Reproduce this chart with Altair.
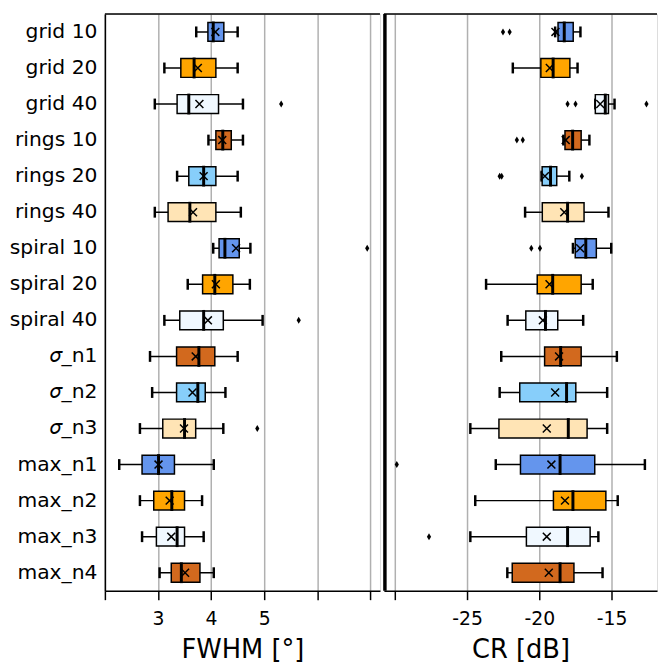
import altair as alt
import pandas as pd

names = ["grid 10", "grid 20", "grid 40", "rings 10", "rings 20", "rings 40",
         "spiral 10", "spiral 20", "spiral 40", "𝜎_n1", "𝜎_n2", "𝜎_n3",
         "max_n1", "max_n2", "max_n3", "max_n4"]
colors = ["#6495ED", "#FFA500", "#F0F8FF", "#D2691E", "#87CEFA", "#FFE4B5",
          "#6495ED", "#FFA500", "#F0F8FF", "#D2691E", "#87CEFA", "#FFE4B5",
          "#6495ED", "#FFA500", "#F0F8FF", "#D2691E"]

# FWHM [deg]
fw_lo = [3.72, 3.12, 2.94, 3.95, 3.36, 2.94, 4.04, 3.56, 3.12, 2.85, 2.89, 2.66, 2.27, 2.66, 2.70, 3.03]
fw_q1 = [3.94, 3.43, 3.36, 4.09, 3.58, 3.19, 4.15, 3.84, 3.41, 3.35, 3.35, 3.09, 2.70, 2.92, 2.97, 3.25]
fw_md = [4.04, 3.68, 3.58, 4.22, 3.86, 3.60, 4.26, 4.07, 3.86, 3.77, 3.75, 3.50, 3.01, 3.26, 3.36, 3.44]
fw_q3 = [4.24, 4.09, 4.14, 4.38, 4.09, 4.09, 4.53, 4.41, 4.23, 4.07, 3.89, 3.71, 3.31, 3.50, 3.50, 3.79]
fw_hi = [4.50, 4.50, 4.60, 4.60, 4.50, 4.56, 4.74, 4.73, 4.97, 4.50, 4.27, 4.23, 4.05, 3.83, 3.86, 4.05]
fw_mean = [4.08, 3.75, 3.78, 4.21, 3.86, 3.66, 4.47, 4.09, 3.94, 3.71, 3.65, 3.49, 3.01, 3.22, 3.25, 3.51]
fw_out_name = ["grid 40", "spiral 10", "spiral 40", "𝜎_n3"]
fw_out_val = [5.32, 6.94, 5.65, 4.87]

# CR [dB]
cr_lo = [-18.9, -21.83, -16.12, -18.33, -19.84, -20.98, -17.67, -23.68, -22.19, -22.63, -22.74, -24.77, -23.01, -24.43, -24.77, -22.21]
cr_q1 = [-18.70, -19.89, -16.12, -18.22, -19.80, -19.79, -17.51, -20.14, -20.93, -19.63, -21.35, -22.79, -21.30, -19.02, -20.89, -21.87]
cr_md = [-18.27, -19.04, -15.43, -17.69, -19.22, -18.04, -16.78, -19.07, -19.57, -18.52, -18.11, -17.99, -18.56, -17.67, -18.04, -18.56]
cr_q3 = [-17.65, -17.88, -15.21, -17.10, -18.79, -16.90, -16.05, -17.10, -18.72, -17.10, -17.47, -16.69, -16.16, -15.39, -16.48, -17.60]
cr_hi = [-17.15, -17.35, -14.79, -16.53, -17.92, -15.21, -15.02, -16.30, -16.96, -14.63, -15.30, -15.30, -12.69, -14.57, -15.91, -15.62]
cr_mean = [-18.88, -19.27, -15.78, -18.17, -19.61, -18.27, -17.17, -19.29, -19.75, -18.63, -18.90, -19.48, -19.16, -18.22, -19.48, -19.34]
cr_out_name = ["grid 10", "grid 10", "grid 40", "grid 40", "grid 40", "rings 10", "rings 10",
               "rings 20", "rings 20", "rings 20", "spiral 10", "spiral 10", "max_n1", "max_n3"]
cr_out_val = [-22.51, -22.05, -18.04, -17.49, -12.58, -21.55, -21.14,
              -22.74, -22.60, -17.05, -20.55, -19.95, -29.86, -27.63]

H = 583
FONT = "DejaVu Sans"
X_SHAPE = "M-1,-1L1,1M-1,1L1,-1"
D_SHAPE = "M0,-1L0.6,0L0,1L-0.6,0Z"


def panel(lo, q1, md, q3, hi, mean, out_name, out_val, domain, values, label_expr,
          title, width, show_y, left_frame):
    df = pd.DataFrame({"name": names, "color": colors, "lo": lo, "q1": q1, "md": md,
                       "q3": q3, "hi": hi, "mean": mean})
    dout = pd.DataFrame({"name": out_name, "v": out_val})
    yscale = alt.Scale(type="band", domain=names, paddingInner=0, paddingOuter=0, round=False)
    if show_y:
        yax = alt.Axis(title=None, ticks=False, labelFontSize=20.5, labelPadding=8,
                       labelFont=FONT, labelColor="black", domainColor="black",
                       domainWidth=1.5, minExtent=100, maxExtent=100, labelLimit=200)
    else:
        yax = None
    xscale = alt.Scale(domain=domain, nice=False, zero=False)
    xax = alt.Axis(values=values, labelExpr=label_expr, title=title, grid=True,
                   gridColor="#b0b0b0", gridWidth=1.5, domainColor="black",
                   domainWidth=1.5, tickColor="black", tickWidth=1.5, tickSize=9,
                   labelFontSize=19, labelFont=FONT, labelColor="black",
                   labelPadding=10, titleFontSize=26, titleFont=FONT,
                   titleFontWeight="normal", titleColor="black", titlePadding=8,
                   labelFlush=False)
    base = alt.Chart(df)
    y = alt.Y("name:N", scale=yscale, axis=yax, sort=names)
    whisk = base.mark_rule(color="black", strokeWidth=1.5).encode(
        x=alt.X("lo:Q", scale=xscale, axis=xax), x2="hi:Q", y=y)
    cap_lo = base.mark_tick(color="black", size=11, thickness=2.5, orient="vertical",
                            opacity=1).encode(x="lo:Q", y=y)
    cap_hi = base.mark_tick(color="black", size=11, thickness=2.5, orient="vertical",
                            opacity=1).encode(x="hi:Q", y=y)
    box = base.mark_bar(stroke="black", strokeWidth=1.5, size=19, opacity=1).encode(
        x="q1:Q", x2="q3:Q", y=y, color=alt.Color("color:N", scale=None))
    med = base.mark_tick(color="black", size=21, thickness=3, orient="vertical",
                         opacity=1).encode(x="md:Q", y=y)
    mn = base.mark_point(shape=X_SHAPE, size=64, filled=False, stroke="black",
                         strokeWidth=1.5, opacity=1).encode(x="mean:Q", y=y)
    outl = alt.Chart(dout).mark_point(shape=D_SHAPE, size=50, filled=True, color="black",
                                      opacity=1).encode(x="v:Q", y=alt.Y("name:N", scale=yscale, sort=names))
    fdf = pd.DataFrame({"a": [0]})
    top = alt.Chart(fdf).mark_rule(color="black", strokeWidth=1.5).encode(
        x=alt.value(0), x2=alt.value(width), y=alt.value(0))
    layers = [whisk, cap_lo, cap_hi, box, med, mn, outl, top]
    if left_frame:
        sep = alt.Chart(fdf).mark_rule(color="black", strokeWidth=3.5).encode(
            x=alt.value(1), y=alt.value(0), y2=alt.value(H))
        layers.append(sep)
    return alt.layer(*layers).properties(width=width, height=H)


left = panel(fw_lo, fw_q1, fw_md, fw_q3, fw_hi, fw_mean, fw_out_name, fw_out_val,
             [2, 7.18], [2, 3, 4, 5, 6, 7],
             "datum.value >= 3 && datum.value <= 5 ? '' + datum.value : ''",
             "FWHM [°]", 278, True, False)
right = panel(cr_lo, cr_q1, cr_md, cr_q3, cr_hi, cr_mean, cr_out_name, cr_out_val,
              [-30.75, -11.85], [-30, -25, -20, -15],
              "datum.value == -30 ? '' : '' + datum.value",
              "CR [dB]", 276, False, True)

chart = alt.hconcat(left, right, spacing=0).properties(
    padding={"left": 5, "top": 7.5, "right": 0, "bottom": 0}
).configure_view(stroke=None).configure(background="white")

chart.save("out.html", embed_options={"renderer": "svg", "actions": False})
